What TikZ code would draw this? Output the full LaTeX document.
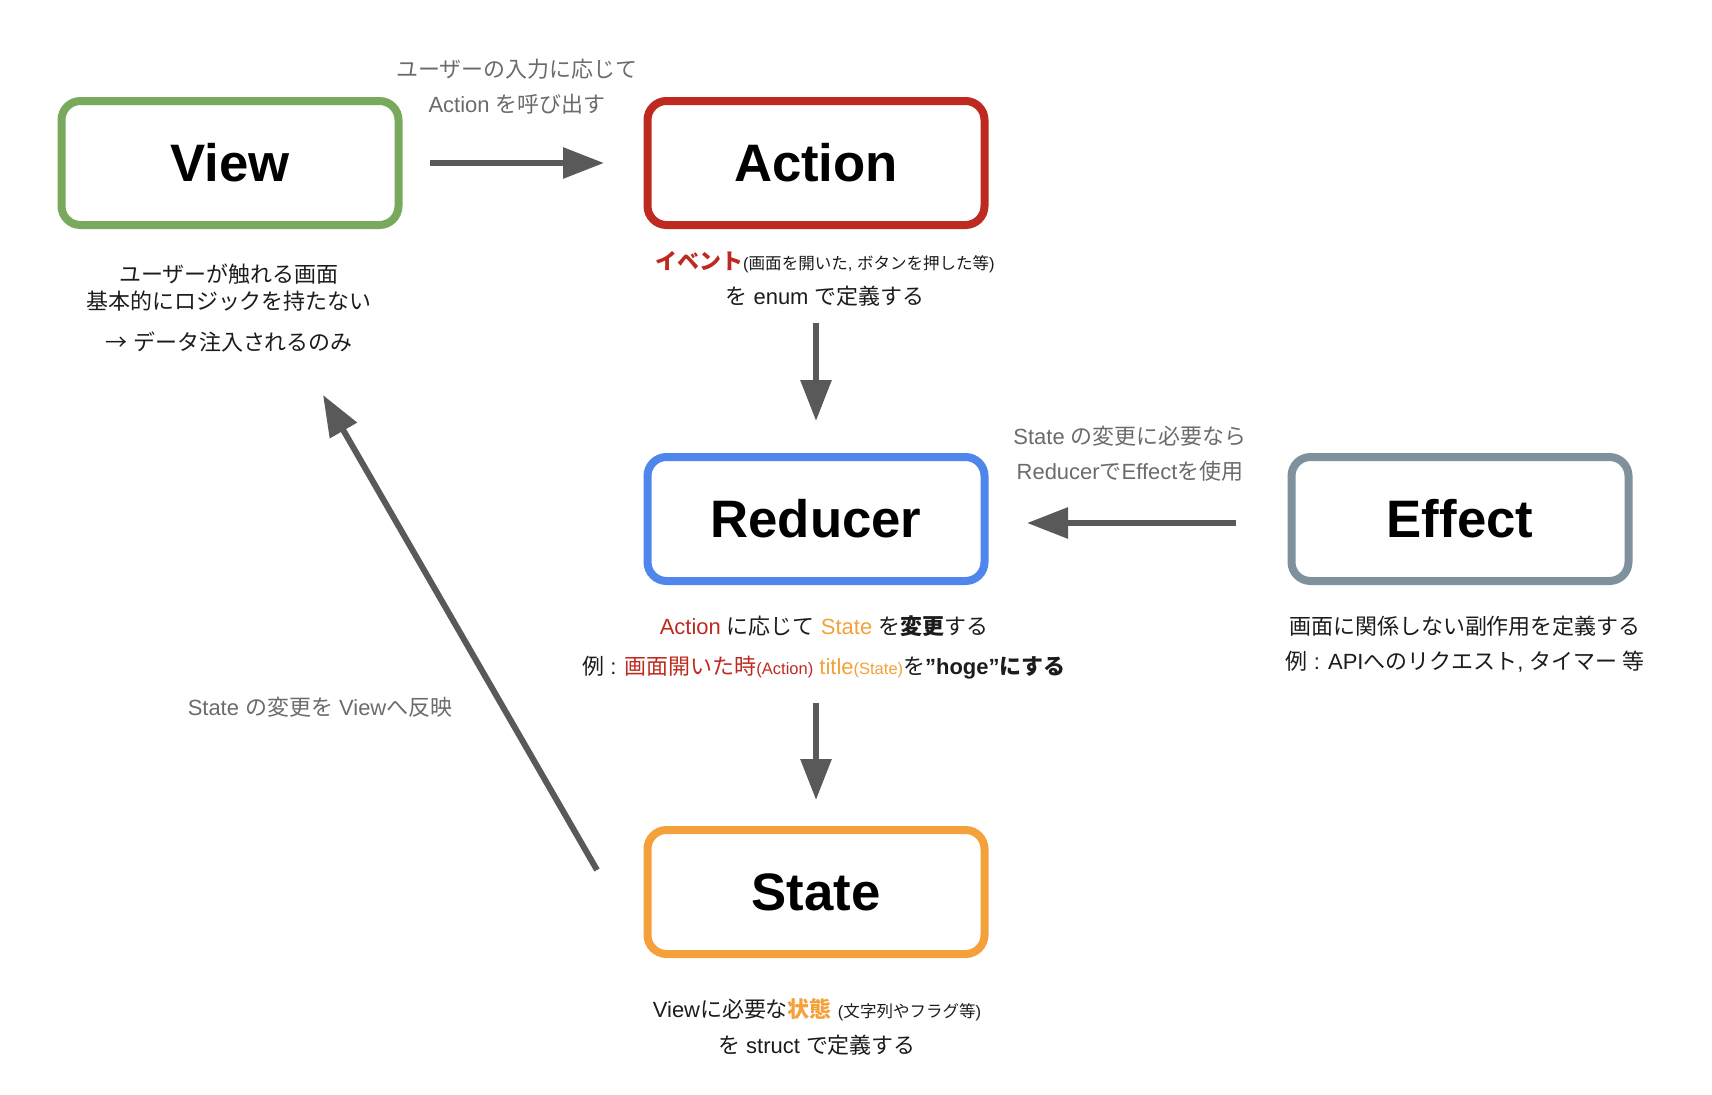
\documentclass[tikz,border=0pt]{standalone}
\usepackage{fontspec}
\setmainfont{Liberation Sans}
\newfontfamily\jpfont{Noto Sans CJK JP}
\usetikzlibrary{arrows.meta}
\definecolor{viewgreen}{HTML}{78A95C}
\definecolor{actred}{HTML}{BE2A20}
\definecolor{reducerblue}{HTML}{4F86EC}
\definecolor{effectgray}{HTML}{7E919D}
\definecolor{stateorange}{HTML}{F4A03B}
\definecolor{arrowgray}{HTML}{595959}
\definecolor{labelgray}{HTML}{6B6B6B}
\definecolor{notetext}{HTML}{1C1C1C}
\newcommand{\jp}[1]{{\jpfont #1}}
\newcommand{\smalltext}{\fontsize{9.4}{11}\selectfont}
\newcommand{\archbox}[3] {\node at (#1) (#2) [roundbox, draw=#3] {#2};}
\newcommand{\archnote}[3] {\node at (#1) (#2) [note] {#3};}
\newcommand{\archlabel}[3] {\node at (#1) (#2) [note, text=labelgray] {#3};}
\newcommand{\archarrow}[4] {\draw [flow, shorten <=#3, shorten >=#4] (#1) -- (#2);}

\begin{document}
\begin{tikzpicture}[x=2cm, y=-2cm,
  roundbox/.style={rectangle, rounded corners=0.38cm, line width=0.16cm,
    minimum width=6.74cm, minimum height=2.48cm, inner sep=0pt,
    font=\fontsize{30}{36}\selectfont\bfseries},
  note/.style={align=center, text=notetext, inner sep=0pt,
    font=\fontsize{12.5}{20}\selectfont},
  flow/.style={draw=arrowgray, line width=0.12cm,
    -{Triangle[length=0.82cm, width=0.6cm]}}]
\useasboundingbox (0,0) rectangle (17.12,10.94);

\archbox {2.30,1.63} {View} {viewgreen}
\archbox {8.16,1.63} {Action} {actred}
\archbox {8.16,5.19} {Reducer} {reducerblue}
\archbox {14.60,5.19} {Effect} {effectgray}
\archbox {8.16,8.92} {State} {stateorange}

\archlabel {5.17,0.87} {calllabel} {\jp{ユーザーの入力に応じて}\\Action \jp{を呼び出す}}
\archnote {2.29,3.08} {viewnote} {\jp{ユーザーが触れる画面}\\[-4.6pt]\jp{基本的にロジックを持たない}\\[3.3pt]\jp{→} \jp{データ注入されるのみ}}
\archnote {8.25,2.79} {actionnote} {{\bfseries\color{actred}\jp{イベント}}{\smalltext(\jp{画面を開いた}, \jp{ボタンを押した等})}\\\jp{を} enum \jp{で定義する}}
\archlabel {11.30,4.54} {effectlabel} {State \jp{の変更に必要なら}\\Reducer\jp{で}Effect\jp{を使用}}
\archnote {8.24,6.47} {reducernote} {{\color{actred}Action} \jp{に応じて} {\color{stateorange}State} \jp{を\textbf{変更}する}\\[2.8pt]
  \jp{例} : {\color{actred}\jp{画面開いた時}\smalltext(Action)} {\color{stateorange}title{\smalltext(State)}}\jp{を}\textbf{”hoge”\jp{にする}}}
\archnote {14.65,6.44} {effectnote} {\jp{画面に関係しない副作用を定義する}\\\jp{例} : API\jp{へのリクエスト}, \jp{タイマー 等}}
\archlabel {3.20,7.07} {backlabel} {State \jp{の変更を} View\jp{へ反映}}
\archnote {8.17,10.27} {statenote} {View\jp{に必要な}{\bfseries\color{stateorange}\jp{状態}} {\smalltext(\jp{文字列やフラグ等})}\\\jp{を} struct \jp{で定義する}}

\coordinate (backfrom) at (5.97,8.70);
\coordinate (backto) at (3.23,3.95);

\archarrow {View.east} {Action.west} {0.55cm} {0.79cm}
\archarrow {Action.south} {Reducer.north} {1.88cm} {0.64cm}
\archarrow {[yshift=-0.08cm]Effect.west} {[yshift=-0.08cm]Reducer.east} {1.03cm} {0.77cm}
\archarrow {Reducer.south} {State.north} {2.36cm} {0.52cm}
\archarrow {backfrom} {backto} {0pt} {0pt}
\end{tikzpicture}
\end{document}
